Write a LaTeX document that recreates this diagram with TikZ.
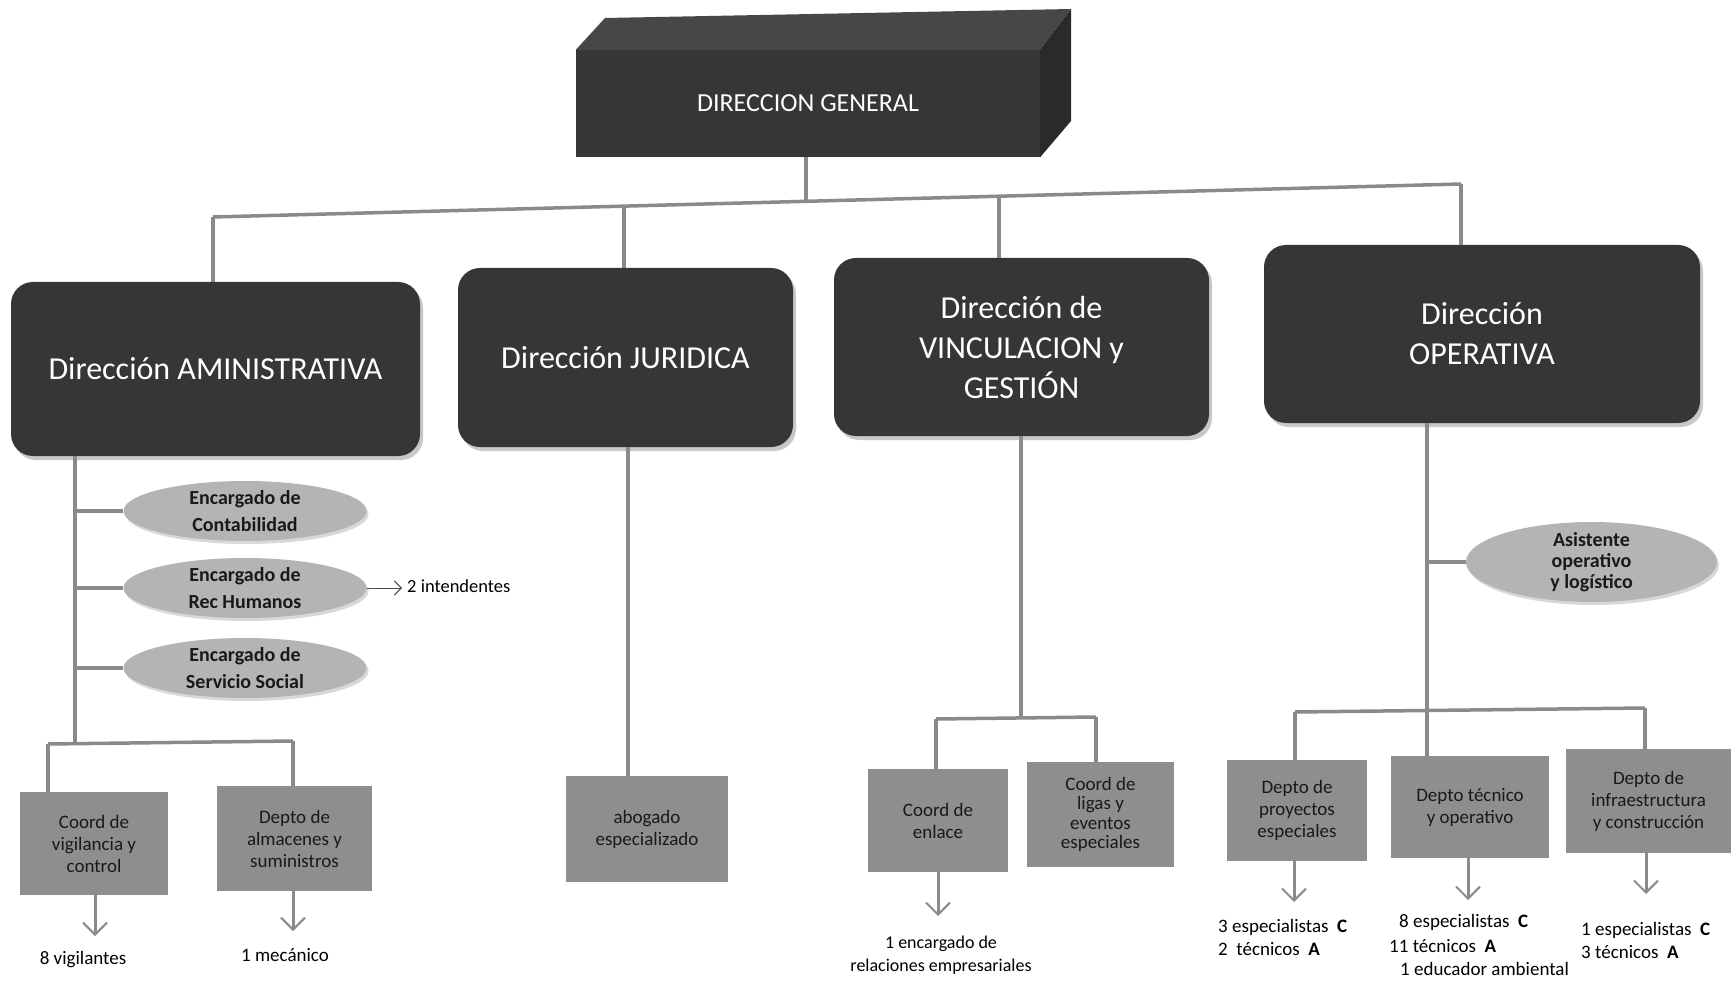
\documentclass[tikz,border=0pt]{standalone}
\usepackage{fontspec}
\setmainfont{Carlito}
\usetikzlibrary{arrows.meta,shapes.geometric,shadows}
\definecolor{darkbox}{HTML}{363636}
\definecolor{topface}{HTML}{474747}
\definecolor{sideface}{HTML}{2A2A2A}
\definecolor{midbox}{HTML}{8E8E8E}
\definecolor{lightbox}{HTML}{B4B4B4}
\definecolor{connc}{HTML}{8A8A8A}
\begin{document}
\begin{tikzpicture}[x=1pt,y=-1pt,
  dirbox/.style={rounded corners=22pt, fill=darkbox, text=white, align=center,
    font=\fontsize{32}{40}\selectfont, inner sep=0pt,
    drop shadow={shadow xshift=3pt,shadow yshift=-4pt,fill=black!30,opacity=0.7}},
  depbox/.style={fill=midbox, text=black!90, align=center,
    font=\fontsize{19}{22}\selectfont, inner sep=0pt},
  encbox/.style={ellipse, fill=lightbox, inner sep=0pt,
    drop shadow={shadow xshift=2pt,shadow yshift=-3pt,fill=black!25,opacity=0.6}},
  enctext/.style={align=center, font=\bfseries\fontsize{20}{27}\selectfont, text=black!90, inner sep=0pt},
  conn/.style={draw=connc, line width=3.5pt},
  arr/.style={draw=connc, line width=3pt, -{Straight Barb[length=12pt,width=24pt,line width=2pt]}},
  lab/.style={font=\fontsize{19}{23}\selectfont, inner sep=0pt, text=black},
]
\useasboundingbox (0,0) rectangle (1731,981);
\fill[white] (0,0) rectangle (1731,981);

% ---- Direccion general (3D block)
\node[fill=darkbox, minimum width=464pt, minimum height=107pt, inner sep=0pt,
      text=white, font=\fontsize{26}{30}\selectfont] (dg) at (808,103.5) {DIRECCION GENERAL};
\fill[topface] (dg.north west) -- (605,18) -- (1071,9) -- (dg.north east) -- cycle;
\fill[sideface] (dg.north east) -- (1071,9) -- (1071,121) -- (dg.south east) -- cycle;

% ---- level 2
\node[dirbox, minimum width=409pt, minimum height=174pt] (amin) at (215.5,369) {Dirección AMINISTRATIVA};
\node[dirbox, minimum width=335pt, minimum height=179pt] (jur) at (625.5,357.5) {Dirección JURIDICA};
\node[dirbox, minimum width=375pt, minimum height=178pt] (vinc) at (1021.5,347) {Dirección de\\VINCULACION y\\GESTIÓN};
\node[dirbox, minimum width=436pt, minimum height=178pt] (oper) at (1482,334) {Dirección\\OPERATIVA};

% bus
\coordinate (bA) at (213,217);
\coordinate (bJ) at (624,206);
\coordinate (bDG) at (806,201);
\coordinate (bV) at (999,196);
\coordinate (bO) at (1461,184);
\draw[conn] (bA) -- (bO);
\draw[conn] (bDG |- dg.south) -- (bDG);
\draw[conn] (bA) -- (bA |- amin.north);
\draw[conn] (bJ) -- (bJ |- jur.north);
\draw[conn] (bV) -- (bV |- vinc.north);
\draw[conn] (bO) -- (bO |- oper.north);

% ---- Administrativa branch
\node[encbox, minimum width=243pt, minimum height=60pt] (e1) at (245,511) {};
\node[enctext] (e1t) at (e1) {Encargado de\\Contabilidad};
\node[encbox, minimum width=243pt, minimum height=60pt] (e2) at (245,588) {};
\node[enctext] (e2t) at (e2) {Encargado de\\Rec Humanos};
\node[encbox, minimum width=243pt, minimum height=60pt] (e3) at (245,668) {};
\node[enctext] (e3t) at (e3) {Encargado de\\Servicio Social};

\node[depbox, minimum width=148pt, minimum height=103pt] (vig) at (94,843.5) {Coord de\\vigilancia y\\control};
\node[depbox, minimum width=155pt, minimum height=105pt] (alm) at (294.5,838.5) {Depto de\\almacenes y\\suministros};

\coordinate (aB) at (75,743);
\coordinate (aBL) at (48,744);
\coordinate (aBR) at (293,741);
\draw[conn] (aB |- amin.south) -- (aB);
\draw[conn] (aBL) -- (aBR);
\draw[conn] (aBL) -- (aBL |- vig.north);
\draw[conn] (aBR) -- (aBR |- alm.north);
\draw[conn] (aB |- e1.west) -- (e1.west);
\draw[conn] (aB |- e2.west) -- (e2.west);
\draw[conn] (aB |- e3.west) -- (e3.west);

\coordinate (intTip) at (402,588);
\draw[draw=black!70, line width=1pt, -{Straight Barb[length=7pt,width=14pt]}] (e2.east) -- (intTip);
\node[lab, anchor=west, font=\fontsize{18.5}{20}\selectfont] (int) at (407,586) {2 intendentes};

\coordinate (vT) at (95,936);
\draw[arr] (vT |- vig.south) -- (vT);
\node[lab] (vigl) at (83,960) {8 vigilantes};
\coordinate (mT) at (293,931);
\draw[arr] (mT |- alm.south) -- (mT);
\node[lab] (mecl) at (285,955) {1 mecánico};

% ---- Juridica branch
\node[depbox, minimum width=162pt, minimum height=106pt] (abo) at (647,829) {abogado\\especializado};
\coordinate (jL) at (628,600);
\draw[conn] (jL |- jur.south) -- (jL |- abo.north);

% ---- Vinculacion branch
\node[depbox, minimum width=140pt, minimum height=103pt] (enl) at (938,820.5) {Coord de\\enlace};
\node[depbox, minimum width=147pt, minimum height=105pt, font=\fontsize{19}{19.5}\selectfont] (lig) at (1100.5,814.5) {Coord de\\ligas y\\eventos\\especiales};
\coordinate (vB) at (1021,718);
\coordinate (vBL) at (936,719);
\coordinate (vBR) at (1096,717);
\draw[conn] (vB |- vinc.south) -- (vB);
\draw[conn] (vBL) -- (vBR);
\draw[conn] (vBL) -- (vBL |- enl.north);
\draw[conn] (vBR) -- (vBR |- lig.north);
\coordinate (eT) at (938,916);
\draw[arr] (eT |- enl.south) -- (eT);
\node[lab, align=center, font=\fontsize{18}{23}\selectfont] (encl) at (941,955) {1 encargado de\\relaciones empresariales};

% ---- Operativa branch
\node[encbox, minimum width=251pt, minimum height=80pt] (asi) at (1591.5,562) {};
\node[enctext, font=\bfseries\fontsize{20}{21}\selectfont] (asit) at (asi) {Asistente\\operativo\\y logístico};
\node[depbox, minimum width=140pt, minimum height=101pt] (pro) at (1297,810.5) {Depto de\\proyectos\\especiales};
\node[depbox, minimum width=158pt, minimum height=102pt] (tec) at (1470,807) {Depto técnico\\y operativo};
\node[depbox, minimum width=165pt, minimum height=104pt] (inf) at (1648.5,801) {Depto de\\infraestructura\\y construcción};

\coordinate (oV) at (1427,600);
\coordinate (oBL) at (1295,712);
\coordinate (oBR) at (1645,708);
\draw[conn] (oV |- oper.south) -- (oV |- tec.north);
\draw[conn] (oBL) -- (oBR);
\draw[conn] (oBL) -- (oBL |- pro.north);
\draw[conn] (oBR) -- (oBR |- inf.north);
\draw[conn] (oV |- asi.west) -- (asi.west);

\coordinate (pT) at (1294,902);
\draw[arr] (pT |- pro.south) -- (pT);
\coordinate (tT) at (1468,900);
\draw[arr] (tT |- tec.south) -- (tT);
\coordinate (iT) at (1646,894);
\draw[arr] (iT |- inf.south) -- (iT);

\node[lab, anchor=west] (p1) at (1218,927) {3 especialistas\ \ \textbf{C}};
\node[lab, anchor=west] (p2) at (1218,949) {2\ \ técnicos\ \ \textbf{A}};
\node[lab, anchor=west] (t1) at (1399,922) {8 especialistas\ \ \textbf{C}};
\node[lab, anchor=west] (t2) at (1389,946) {11 técnicos\ \ \textbf{A}};
\node[lab, anchor=west] (t3) at (1400,969) {1 educador ambiental};
\node[lab, anchor=west] (i1) at (1581,930) {1 especialistas\ \ \textbf{C}};
\node[lab, anchor=west] (i2) at (1581,952) {3 técnicos\ \ \textbf{A}};
\end{tikzpicture}
\end{document}
